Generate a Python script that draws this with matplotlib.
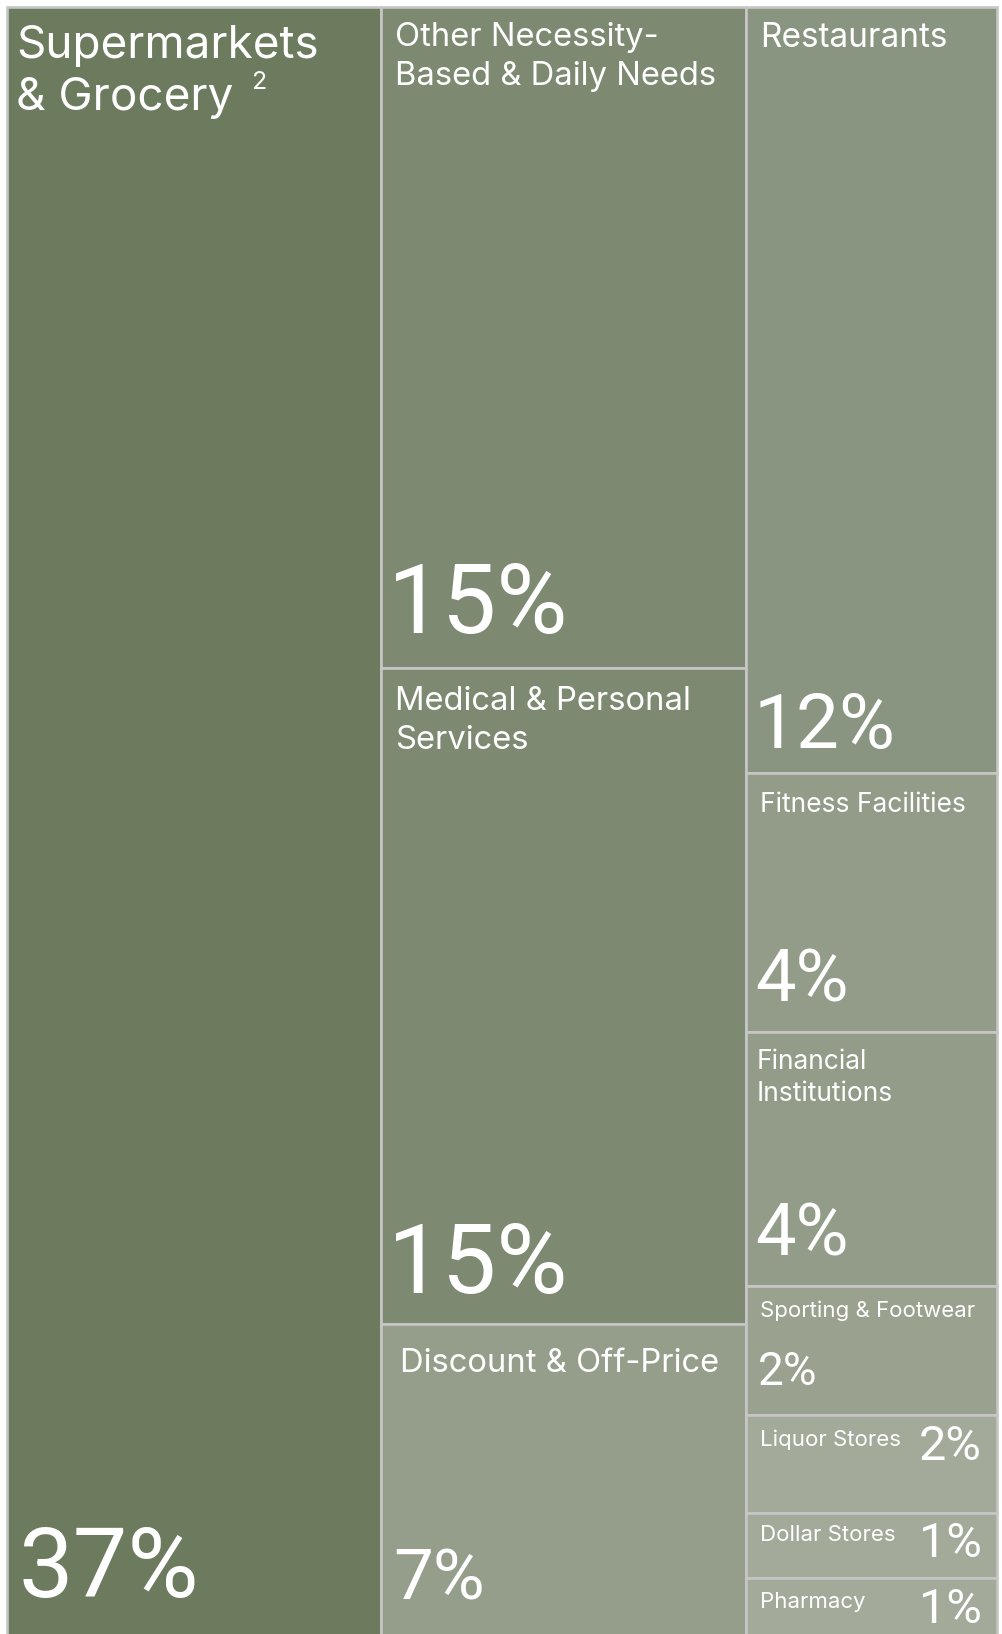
import numpy as np
import matplotlib.pyplot as plt
from matplotlib.patches import Rectangle

# tenant mix by annualised base rent, share in percent
columns = [
    ["Supermarkets\n& Grocery"],
    ["Other Necessity-\nBased & Daily Needs", "Medical & Personal\nServices", "Discount & Off-Price"],
    ["Restaurants", "Fitness Facilities", "Financial\nInstitutions", "Sporting & Footwear",
     "Liquor Stores", "Dollar Stores", "Pharmacy"],
]
shares = [
    [37.4],
    [14.8, 14.7, 7.0],
    [11.8, 4.0, 3.9, 2.0, 1.5, 1.0, 0.9],
]
pct_labels = [
    ["37%"],
    ["15%", "15%", "7%"],
    ["12%", "4%", "4%", "2%", "2%", "1%", "1%"],
]
colors = [
    ["#6c7a5e"],
    ["#7d8971", "#7d8971", "#959e8a"],
    ["#899581", "#939c89", "#939c89", "#9aa18f", "#a3aa9a", "#a3aa9a", "#a3aa9a"],
]

# per cell: label size, label dx, label top below cell top, line spacing,
#           pct size, pct dx, pct baseline offset, pct placement
styles = [
    [(33, 9, 18, 1.3, 70, 12, 37, 'bottom')],
    [(23.6, 14, 15, 1.35, 70, 7, 35, 'bottom'),
     (23.6, 14, 18, 1.35, 70, 7, 31, 'bottom'),
     (23.6, 19, 24, 1.3, 51, 12, 35, 'bottom')],
    [(24, 14, 15, 1.3, 55, 8, 25, 'bottom'),
     (19, 14, 19, 1.3, 52, 9, 31, 'bottom'),
     (19, 11, 17, 1.3, 52, 9, 30, 'bottom'),
     (16, 14, 15, 1.3, 33, 12, 30, 'bottom'),
     (16, 14, 14, 1.3, 35, 15, 45, 'right'),
     (16, 14, 12, 1.3, 35, 15, 44, 'right'),
     (16, 14, 14, 1.3, 35, 15, 45, 'right')],
]

W, H = 1002, 1634
x_left, x_right = 7, 997
y_top, y_bot = 7, 1636

plt.rcParams['font.family'] = ['Inter', 'DejaVu Sans']
pct_font = ['Roboto', 'DejaVu Sans']

fig = plt.figure(figsize=(W / 100, H / 100), dpi=100)
ax = fig.add_axes([0, 0, 1, 1])
ax.set_xlim(0, W)
ax.set_ylim(H, 0)
ax.axis('off')

total = sum(sum(c) for c in shares)
x0 = x_left
for ci, col in enumerate(shares):
    colsum = sum(col)
    cw = (x_right - x_left) * colsum / total
    y0 = y_top
    for ri, v in enumerate(col):
        ch = (y_bot - y_top) * v / colsum
        ax.add_patch(Rectangle((x0, y0), cw, ch, facecolor=colors[ci][ri],
                               edgecolor='#c6c6c6', linewidth=1.9))
        ls, ldx, ldy, lsp, ps, pdx, pdy, place = styles[ci][ri]
        ax.text(x0 + ldx, y0 + ldy, columns[ci][ri], color='white', fontsize=ls,
                va='top', ha='left', linespacing=lsp)
        if place == 'right':
            ax.text(x0 + cw - pdx, y0 + pdy, pct_labels[ci][ri], color='white',
                    fontsize=ps, va='baseline', ha='right', family=pct_font)
        else:
            ax.text(x0 + pdx, min(y0 + ch, 1634) - pdy, pct_labels[ci][ri], color='white',
                    fontsize=ps, va='baseline', ha='left', family=pct_font)
        y0 += ch
    x0 += cw

# footnote marker on the grocery label
ax.text(x_left + 244, 71, "2", color='white', fontsize=18, va='top', ha='left')

fig.savefig('out.png', dpi=100)
